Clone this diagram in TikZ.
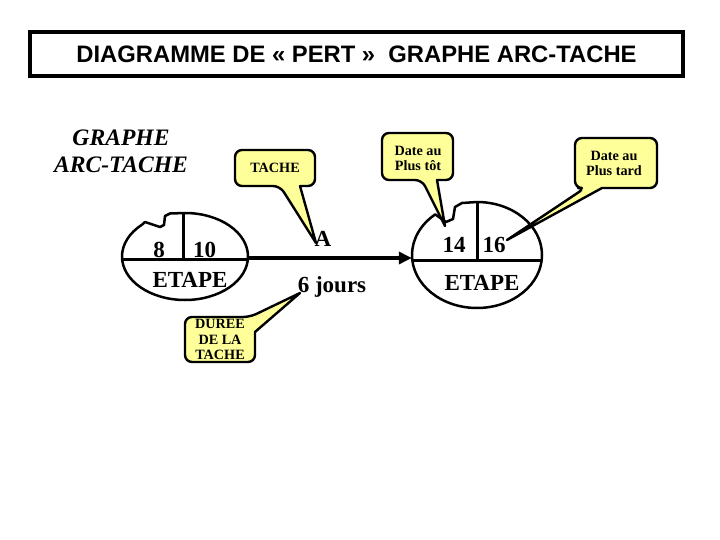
\documentclass[tikz,border=0pt]{standalone}
\usepackage{fontspec}
\setmainfont{Liberation Serif}
\newfontfamily\arialfont{Liberation Sans}
\usetikzlibrary{arrows.meta,shapes.geometric}
\definecolor{callyellow}{RGB}{255,255,153}
\begin{document}
\begin{tikzpicture}[x=1pt,y=-1pt,
  callout/.style={draw, line width=2.4pt, fill=callyellow, line join=round},
  calltext/.style={font=\bfseries\fontsize{14.2}{15.5}\selectfont, align=center, inner sep=0pt},
  bigtext/.style={font=\bfseries\fontsize{23}{27}\selectfont, inner sep=0pt, anchor=base},
  eline/.style={line width=2.5pt, line join=round},
  divider/.style={line width=3pt},
  flow/.style={line width=4pt, -{Triangle[length=13pt,width=12pt]}}]
\path[use as bounding box, fill=white] (0,0) rectangle (720,540);

% title
\node[draw, line width=4pt, minimum width=653pt, minimum height=44pt, inner sep=0pt,
      font=\arialfont\bfseries\fontsize{23.8}{28}\selectfont] (title) at (356.5,54)
      {DIAGRAMME DE « PERT »\ \ GRAPHE ARC-TACHE};

% subtitle
\node[font=\bfseries\itshape\fontsize{23.6}{27}\selectfont, align=center, inner sep=0pt] (gat) at (121,151) {GRAPHE\\ARC-TACHE};

% event nodes (invisible shapes for anchors)
\node[ellipse, minimum width=126pt, minimum height=87pt, inner sep=0pt] (e1) at (185,258) {};
\node[ellipse, minimum width=130pt, minimum height=106pt, inner sep=0pt] (e2) at (477,258) {};

% ellipse outlines with notches
\draw[eline] (185,213) arc[start angle=90, end angle=-227, x radius=63pt, y radius=43.5pt]
  -- (145,222) -- (160,227) -- (164,225) -- (165,216) -- (170,213.5) -- cycle;
\draw[eline] (477,202) arc[start angle=90, end angle=-230, x radius=65pt, y radius=53pt]
  -- (446,222) -- (453,219) -- (455,207) -- (462,203) -- cycle;

% dividers
\draw[divider] (122.1,259) -- (247.9,259);
\draw[divider] (183,213) -- (183,259);
\draw[divider] (412.3,260) -- (541.7,260);
\draw[divider] (477,202) -- (477,260);

% task arrow
\draw[flow] (e1.east) -- (e2.west);

% texts
\node[bigtext] (t8) at (159,257) {8};
\node[bigtext] (t10) at (204.5,257) {10};
\node[bigtext] (et1) at (190,287) {ETAPE};
\node[bigtext] (t14) at (454,252) {14};
\node[bigtext] (t16) at (494,252) {16};
\node[bigtext] (et2) at (482,290) {ETAPE};
\node[bigtext] (ta) at (323,246) {A};
\node[bigtext] (jours) at (332,292) {6 jours};

% callout tips
\coordinate (tipA) at (316,243);
\coordinate (tipTot) at (445,226);
\coordinate (tipTard) at (507,240);
\coordinate (tipDur) at (300,293);

% callouts
\draw[callout] (300,186) [rounded corners=7pt] -- (315,186) -- (315,150) -- (235,150) -- (235,186) -- (280,186) [sharp corners] -- (tipA) -- cycle;
\node[calltext] (ctache) at (275,168) {TACHE};

\draw[callout] (437,180) [rounded corners=7pt] -- (453,180) -- (453,133) -- (382,133) -- (382,180) -- (422,180) [sharp corners] -- (tipTot) -- cycle;
\node[calltext] (ctot) at (418,158.5) {Date au\\Plus tôt};

\draw[callout] (602,188) [rounded corners=7pt] -- (657,188) -- (657,138) -- (575,138) -- (575,188) -- (585,188) [sharp corners] -- (tipTard) -- cycle;
\node[calltext] (ctard) at (614,163.5) {Date au\\Plus tard};

\draw[callout] (220,362) [rounded corners=7pt] -- (185,362) -- (185,317) -- (250,317) [sharp corners] -- (tipDur) -- (255,332) [rounded corners=7pt] -- (255,362) -- cycle;
\node[calltext] (cdur) at (220,339.5) {DUREE\\DE LA\\TACHE};
\end{tikzpicture}
\end{document}
